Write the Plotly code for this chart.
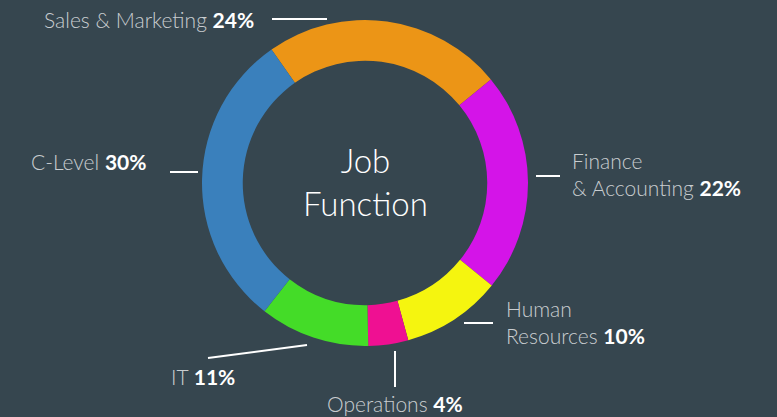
import plotly.graph_objects as go

labels = ["Sales & Marketing", "Finance<br>& Accounting", "Human<br>Resources", "Operations", "IT", "C-Level"]
values = [24, 22, 10, 4, 11, 30]
colors = ["#EC9516", "#D414E8", "#F5F50F", "#EF1092", "#44DC28", "#3A80BC"]

W, H = 777, 417
BG = "#36464F"
LABEL_C = "#C9CDD0"

# label placement (pixels) : x, y, anchor
label_pos = [
    (256, 19, "right"),
    (570, 174, "left"),
    (504, 322, "left"),
    (395, 403, "center"),
    (237, 376, "right"),
    (149, 161, "right"),
]
# leader lines (pixels): x0, y0, x1, y1
leaders = [
    (272, 19, 327, 19),
    (536, 176, 560, 176),
    (464, 323, 493, 323),
    (395, 351, 395, 387),
    (208, 358, 307, 345),
    (170, 172, 198, 172),
]

def px(x):
    return x / W

def py(y):
    return 1 - y / H

cx, cy, r = 365, 183, 163

fig = go.Figure(go.Pie(
    labels=labels,
    values=values,
    marker=dict(colors=colors, line=dict(width=0)),
    hole=0.75,
    sort=False,
    direction="clockwise",
    rotation=-35,
    textinfo="none",
    showlegend=False,
    domain=dict(x=[px(cx - r), px(cx + r)], y=[py(cy + r), py(cy - r)]),
))

annotations = []
for lab, val, (x, y, xa) in zip(labels, values, label_pos):
    annotations.append(dict(
        x=px(x), y=py(y), xref="paper", yref="paper",
        xanchor=xa, yanchor="middle", align=xa,
        text=f"{lab} <b><span style='color:#FFFFFF'>{val}%</span></b>",
        showarrow=False,
        font=dict(family="Lato", size=21, color=LABEL_C, weight=300),
    ))
annotations.append(dict(
    x=px(cx), y=py(cy - 1), xref="paper", yref="paper",
    xanchor="center", yanchor="middle",
    text="Job<br>Function", showarrow=False,
    font=dict(family="Lato", size=33, color="#FFFFFF", weight=300),
))

shapes = [dict(type="line", xref="paper", yref="paper",
               x0=px(a), y0=py(b), x1=px(c), y1=py(d),
               line=dict(color="#FFFFFF", width=2)) for a, b, c, d in leaders]

fig.update_layout(
    width=W, height=H,
    paper_bgcolor=BG, plot_bgcolor=BG,
    margin=dict(l=0, r=0, t=0, b=0),
    annotations=annotations,
    shapes=shapes,
)

fig.write_html("out.html", config={"displayModeBar": False},
               post_script="document.body.style.margin='0';document.body.style.background='" + BG + "';")
